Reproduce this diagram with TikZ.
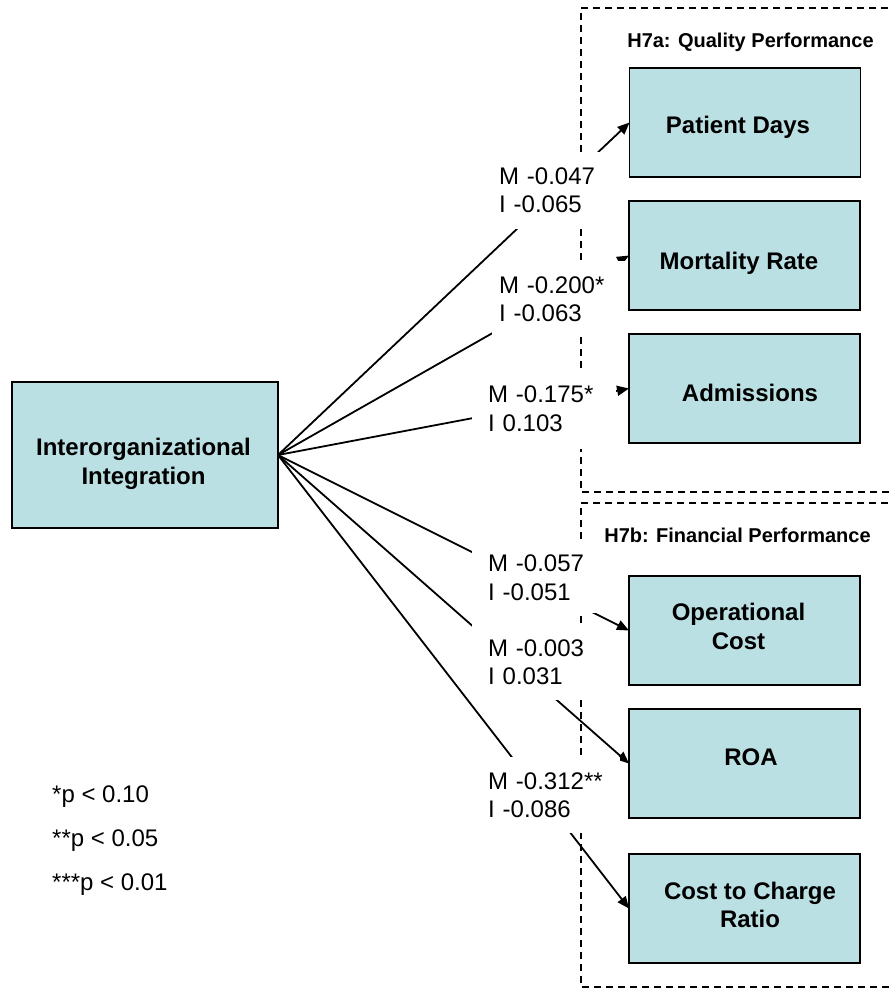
\documentclass[tikz,border=0pt]{standalone}
\usepackage{fontspec}
\setmainfont{Liberation Sans}
\usetikzlibrary{arrows.meta}
\definecolor{boxfill}{RGB}{187,224,227}
\begin{document}
\begin{tikzpicture}[x=1pt,y=-1pt,
  varbox/.style={draw=black, line width=1.5pt, fill=boxfill,
    minimum width=231pt, minimum height=109pt, outer sep=0pt, inner sep=0pt},
  boxtext/.style={inner sep=0pt, align=center, font=\fontsize{24}{28.5}\selectfont\bfseries},
  link/.style={line width=1.8pt, -{Triangle[length=12pt,width=10pt]}},
  coef/.style={fill=white, align=left, inner ysep=0pt,
    font=\fontsize{24}{28.5}\selectfont},
  grpline/.style={line width=1.3pt, dash pattern=on 7pt off 5pt},
  grptitle/.style={anchor=base, inner sep=0pt, font=\fontsize{20}{24}\selectfont\bfseries},
  sigtext/.style={anchor=base west, inner sep=0pt, font=\fontsize{24}{28}\selectfont}
]
\useasboundingbox (0,0) rectangle (892,989);

% predictor and outcome boxes
\node[varbox, minimum width=266pt, minimum height=146pt] (ii) at (145,455) {};
\node[varbox] (pd)  at (745,122.5) {};
\node[varbox] (mr)  at (744.5,255.5) {};
\node[varbox] (adm) at (744.5,388.5) {};
\node[varbox] (oc)  at (744.5,630.5) {};
\node[varbox] (roa) at (744.5,763.5) {};
\node[varbox] (ccr) at (744.5,908.5) {};

% box captions
\node[boxtext, anchor=north] (ii-t) at (143.5,438) {Interorganizational\\Integration};
\node[boxtext, anchor=base]  (pd-t)  at (738,133) {Patient Days};
\node[boxtext, anchor=base]  (mr-t)  at (739,269.5) {Mortality Rate};
\node[boxtext, anchor=base]  (adm-t) at (750,401) {Admissions};
\node[boxtext, anchor=north] (oc-t)  at (738.5,603) {Operational\\Cost};
\node[boxtext, anchor=base]  (roa-t) at (751,765.5) {ROA};
\node[boxtext, anchor=north] (ccr-t) at (750,881.5) {Cost to Charge\\Ratio};

% hypothesis groups
\node[grptitle] (ta) at (750.5,47) {H7a: Quality Performance};
\node[grptitle] (tb) at (737.5,542) {H7b: Financial Performance};
\begin{scope}
  \clip (0,0) rectangle (892,989);
  \draw[grpline] (900,8) -- (581,8) -- (581,492) -- (900,492);
  \draw[grpline] (900,503) -- (581,503) -- (581,987) -- (900,987);
\end{scope}

% paths from the predictor
\draw[link] (ii.east) -- (pd.west);
\draw[link] (ii.east) -- (mr.west);
\draw[link] (ii.east) -- (adm.west);
\draw[link] (ii.east) -- (oc.west);
\draw[link] (ii.east) -- (roa.west);
\draw[link] (ii.east) -- (ccr.west);

% path coefficients
\node[coef, text width=105pt, inner xsep=16pt, minimum height=77pt] (c1) at (551.5,190) {M -0.047\\I -0.065};
\node[coef, text width=120pt, inner xsep=7pt, minimum height=76pt] (c2) at (559,299) {M -0.200*\\I -0.063};
\node[coef, text width=112pt, inner xsep=16pt, minimum height=81pt] (c3) at (544,408.5) {M -0.175*\\I 0.103};
\node[coef, text width=100pt, inner xsep=16pt, minimum height=71pt] (c4) at (538,577.5) {M -0.057\\I -0.051};
\node[coef, text width=100pt, inner xsep=16pt, minimum height=76pt] (c5) at (538,662) {M -0.003\\I 0.031};
\node[coef, text width=116pt, inner xsep=16pt, minimum height=76pt] (c6) at (546,795) {M -0.312**\\I -0.086};

% significance legend
\node[sigtext] (s1) at (52,802) {*p < 0.10};
\node[sigtext] (s2) at (52,846) {**p < 0.05};
\node[sigtext] (s3) at (52,890) {***p < 0.01};
\end{tikzpicture}
\end{document}
